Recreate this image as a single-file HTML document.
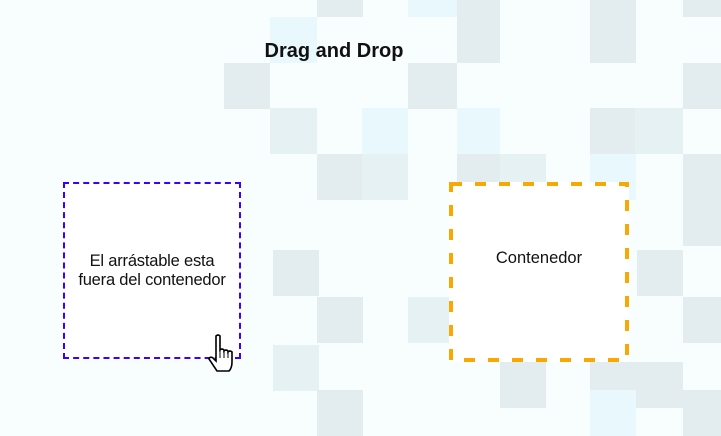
<!DOCTYPE html>
<html><head><meta charset="utf-8"><style>
html,body{margin:0;padding:0}
body{width:721px;height:417px;position:relative;overflow:hidden;background:#f8fdfe;font-family:"Liberation Sans",sans-serif}
.s{position:absolute;width:46px;height:46px}
.g{background:#e3edf0}.c{background:#e8f8fc}.l{background:#e6f1f4}
</style></head><body>
<div class="s g" style="left:317px;top:-29px"></div>
<div class="s c" style="left:408px;top:-29px;width:49px"></div>
<div class="s g" style="left:457px;top:-29px;width:43px"></div>
<div class="s g" style="left:590px;top:-29px"></div>
<div class="s g" style="left:683px;top:-29px;width:40px"></div>
<div class="s c" style="left:270px;top:17px;width:47px"></div>
<div class="s g" style="left:457px;top:17px;width:43px"></div>
<div class="s g" style="left:590px;top:17px"></div>
<div class="s g" style="left:224px;top:63px"></div>
<div class="s g" style="left:408px;top:63px;width:49px"></div>
<div class="s g" style="left:683px;top:63px;width:40px"></div>
<div class="s l" style="left:270px;top:108px;width:47px"></div>
<div class="s c" style="left:362px;top:108px"></div>
<div class="s c" style="left:457px;top:108px;width:43px"></div>
<div class="s g" style="left:590px;top:108px"></div>
<div class="s l" style="left:635px;top:108px;width:48px"></div>
<div class="s g" style="left:317px;top:154px"></div>
<div class="s l" style="left:362px;top:154px"></div>
<div class="s g" style="left:457px;top:154px;width:43px"></div>
<div class="s l" style="left:500px;top:154px"></div>
<div class="s c" style="left:590px;top:154px"></div>
<div class="s g" style="left:683px;top:154px;width:40px"></div>
<div class="s g" style="left:683px;top:200px;width:40px"></div>
<div class="s g" style="left:273px;top:250px"></div>
<div class="s g" style="left:637px;top:250px"></div>
<div class="s g" style="left:317px;top:297px"></div>
<div class="s l" style="left:408px;top:297px"></div>
<div class="s g" style="left:683px;top:297px;width:40px"></div>
<div class="s l" style="left:273px;top:345px"></div>
<div class="s g" style="left:500px;top:362px"></div>
<div class="s g" style="left:590px;top:362px;width:93px"></div>
<div class="s g" style="left:317px;top:390px"></div>
<div class="s c" style="left:590px;top:390px"></div>
<div class="s g" style="left:683px;top:390px;width:40px"></div>

<div style="position:absolute;left:234px;top:40px;width:200px;text-align:center;font-weight:bold;font-size:20px;color:#111">Drag and Drop</div>

<div style="position:absolute;left:63px;top:182px;width:174px;height:173px;border:2px dashed #3a00ff;background:#fff;display:flex;align-items:center;justify-content:center;text-align:center;font-size:16.5px;line-height:19px;color:#111;letter-spacing:-0.2px">El arrástable esta<br>fuera del contenedor</div>

<svg style="position:absolute;left:449px;top:182px" width="180" height="180">
<rect x="0" y="0" width="180" height="180" fill="#fff"/>
<rect x="2" y="2" width="176" height="176" fill="none" stroke="#f8a800" stroke-width="4" stroke-dasharray="11 13"/>
</svg>
<div style="position:absolute;left:449px;top:249px;width:180px;text-align:center;font-size:16.5px;color:#111">Contenedor</div>

<svg style="position:absolute;left:208px;top:334px" width="34" height="40" viewBox="0 0 34 40">
<path d="M8 2 q2-2 4 0 v14 q2-2 4 0 v1 q2-2 4 0 v1 q2-2 4 0 v10 q0 6 -3 9 h-12 l-8-12 q1-3 4-1 l3 3 z" fill="#fff" stroke="#000" stroke-width="1.6"/>
<path d="M12 16v8M16 17v7M20 18v6" stroke="#000" stroke-width="1"/>
</svg>
</body></html>
